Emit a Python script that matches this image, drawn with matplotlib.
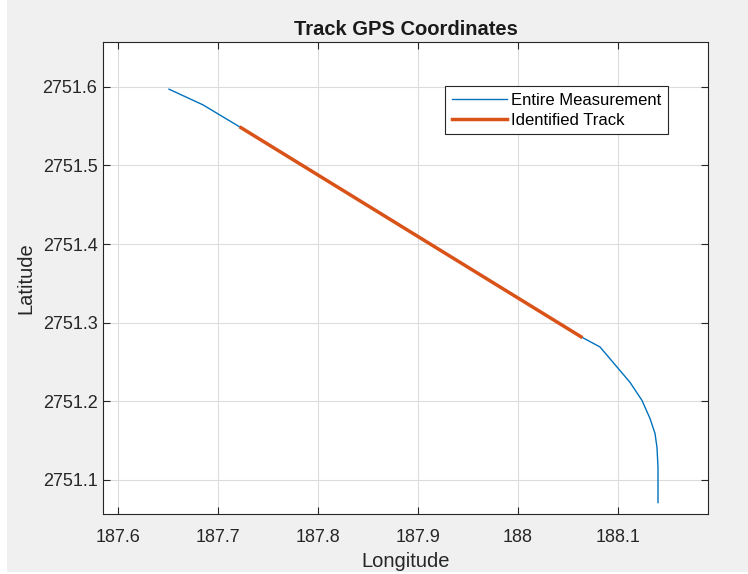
import matplotlib.pyplot as plt
from matplotlib.patches import Rectangle

plt.rcParams['font.family'] = ['Liberation Sans', 'DejaVu Sans']

# whole GPS log (longitude / latitude)
lon_all = [187.651, 187.668, 187.685, 187.702, 187.723, 187.900, 188.063,
           188.082, 188.100, 188.112, 188.124, 188.132, 188.137, 188.139,
           188.140, 188.140]
lat_all = [2751.597, 2751.587, 2751.577, 2751.564, 2751.548, 2751.410, 2751.282,
           2751.269, 2751.242, 2751.224, 2751.201, 2751.178, 2751.159, 2751.141,
           2751.116, 2751.071]

# straight section picked out as the track
lon_track = [187.723, 188.063]
lat_track = [2751.548, 2751.282]

xticks = [187.6, 187.7, 187.8, 187.9, 188.0, 188.1]
xticklabels = ['187.6', '187.7', '187.8', '187.9', '188', '188.1']
yticks = [2751.1, 2751.2, 2751.3, 2751.4, 2751.5, 2751.6]

fig = plt.figure(figsize=(7.48, 5.74), dpi=100, facecolor='white')
fig.patches.append(Rectangle((7 / 748, 2 / 574), 1, 1, transform=fig.transFigure,
                             facecolor='#f0f0f0', edgecolor='none', zorder=-10))
ax = fig.add_axes([103 / 748, 60 / 574, 605 / 748, 472 / 574])

ax.plot(lon_all, lat_all, color='#0072BD', lw=1.0, label='Entire Measurement')
ax.plot(lon_track, lat_track, color='#D95319', lw=2.5, label='Identified Track')

ax.set_xlim(187.585, 188.19)
ax.set_ylim(2751.0565, 2751.657)
ax.set_xticks(xticks)
ax.set_xticklabels(xticklabels)
ax.set_yticks(yticks)
ax.set_yticklabels(['%.1f' % v for v in yticks])

ax.grid(True, color='#dcdcdc', lw=0.8)
ax.set_axisbelow(True)
for s in ax.spines.values():
    s.set_color('#262626')
    s.set_linewidth(0.8)
ax.tick_params(direction='in', length=5, width=0.8, color='#262626',
               top=True, right=True, labelsize=13, labelcolor='#262626')
ax.tick_params(axis='x', pad=11)
ax.tick_params(axis='y', pad=4)

ax.set_title('Track GPS Coordinates', fontsize=14.5, fontweight='bold', color='#1a1a1a', pad=5)
ax.set_xlabel('Longitude', fontsize=14.5, color='#262626', labelpad=4)
ax.set_ylabel('Latitude', fontsize=14.5, color='#262626', labelpad=5)

leg = ax.legend(loc='upper right', bbox_to_anchor=(0.934, 0.907), borderaxespad=0,
                fontsize=12, frameon=True, fancybox=False, edgecolor='#262626',
                framealpha=1, handlelength=3.3, handletextpad=0.25, borderpad=0.4,
                labelspacing=0.3)
leg.get_frame().set_linewidth(0.8)

fig.savefig('out.png', dpi=100, facecolor=fig.get_facecolor())
